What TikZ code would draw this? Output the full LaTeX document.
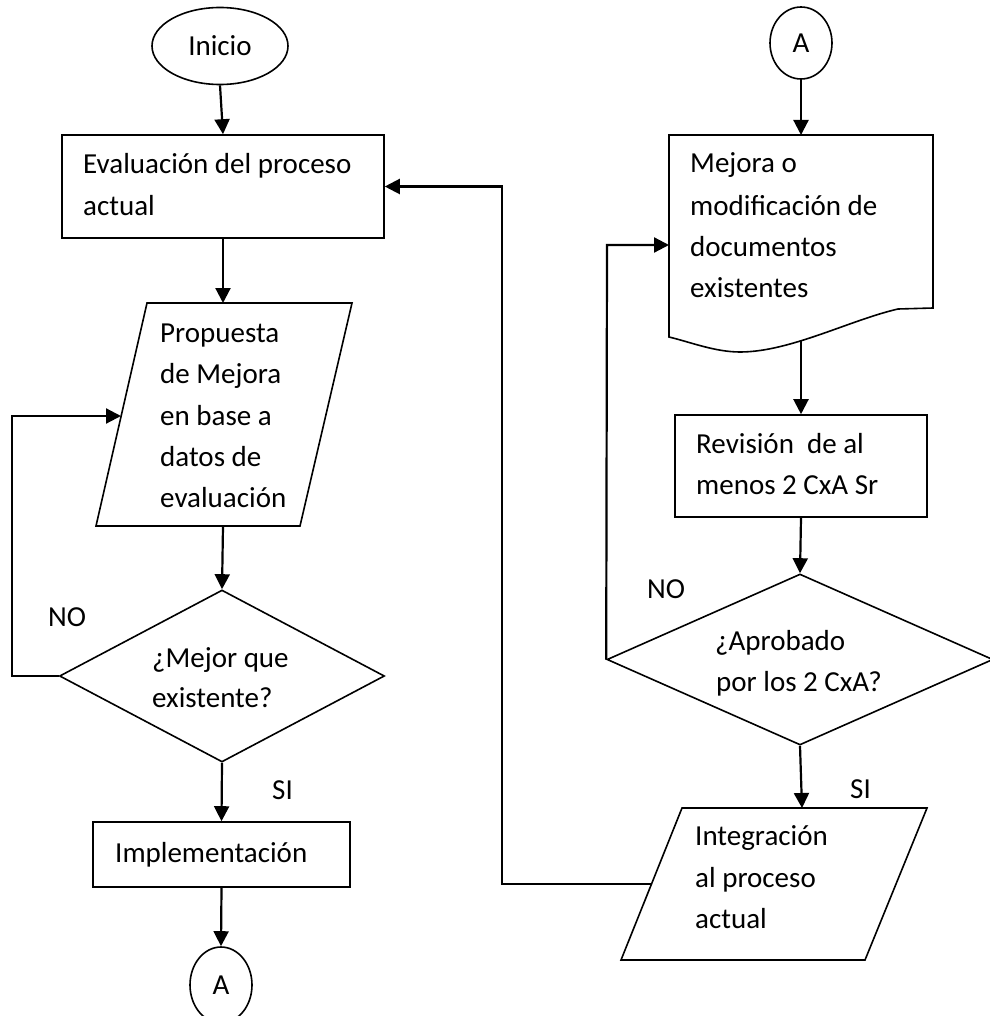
\documentclass[tikz,border=0pt]{standalone}
\usepackage{fontspec}
\setmainfont{Carlito}
\usetikzlibrary{arrows.meta,shapes.geometric}
\begin{document}
\begin{tikzpicture}[x=1pt,y=-1pt,
  txtfont/.style={font=\fontsize{29}{35}\selectfont},
  blk/.style={draw,line width=1.6pt,inner sep=0pt,txtfont},
  conn/.style={line width=2.2pt,-{Triangle[length=15pt,width=15pt]}},
  lbl/.style={anchor=base west,inner sep=0pt,txtfont}]
\useasboundingbox (0,0) rectangle (989,1016);

% ---------- left column ----------
\node[blk,ellipse,minimum width=136pt,minimum height=77pt] (inicio) at (220,46) {Inicio};
\node[blk,rectangle,minimum width=322pt,minimum height=103pt] (eval) at (223,186.5) {};
\node[lbl] (e1) at (83,174) {Evaluación del proceso};
\node[lbl] (e2) at (83,215) {actual};

\draw[blk] (147,303) -- (352,303) -- (300,526) -- (96,526) -- cycle;
\coordinate (propT) at (223,303);
\coordinate (propB) at (223,526);
\coordinate (propL) at (121,416);
\node[lbl] (p1) at (160,342) {Propuesta};
\node[lbl] (p2) at (160,383) {de Mejora};
\node[lbl] (p3) at (160,425) {en base a};
\node[lbl] (p4) at (160,466) {datos de};
\node[lbl] (p5) at (160,507) {evaluación};

\node[blk,diamond,minimum width=325pt,minimum height=172pt] (d1) at (222,676) {};
\node[lbl] (m1) at (152,667) {¿Mejor que};
\node[lbl] (m2) at (152,707) {existente?};
\node[lbl] (no1) at (48,626) {NO};
\node[lbl] (si1) at (272,799) {SI};

\node[blk,rectangle,minimum width=257pt,minimum height=65pt] (impl) at (221.5,854.5) {};
\node[lbl] (i1) at (115,862) {Implementación};
\node[blk,ellipse,minimum width=62pt,minimum height=76pt] (a1) at (221,985) {A};

\coordinate (noL) at (12,416);
\draw[conn] (inicio.south) -- (eval.north);
\draw[conn] (eval.south) -- (propT);
\draw[conn] (propB) -- (d1.north);
\draw[conn] (d1.west) -| (noL) -- (propL);
\draw[conn] (d1.south) -- (impl.north);
\draw[conn] (impl.south) -- (a1.north);

% ---------- right column ----------
\node[blk,ellipse,minimum width=62pt,minimum height=72pt] (a2) at (801,43) {A};
\draw[blk] (669,135) -- (933,135) -- (933,308) -- (898,309)
  .. controls (850,320) and (790,352) .. (740,352)
  .. controls (715,352) and (690,342) .. (669,337) -- cycle;
\coordinate (docT) at (801,135);
\coordinate (docB) at (801,341);
\coordinate (docL) at (669,245);
\node[lbl] (t1) at (690,173) {Mejora o};
\node[lbl] (t2) at (690,215) {modificación de};
\node[lbl] (t3) at (690,256) {documentos};
\node[lbl] (t4) at (690,297) {existentes};

\node[blk,rectangle,minimum width=252pt,minimum height=102pt] (rev) at (801,466) {};
\node[lbl] (r1) at (696,453) {Revisión\ \ de al};
\node[lbl] (r2) at (696,494) {menos 2 CxA Sr};

\node[blk,diamond,minimum width=386pt,minimum height=171pt] (d2) at (800,659.5) {};
\node[lbl] (q1) at (715,650) {¿Aprobado};
\node[lbl] (q2) at (716,691) {por los 2 CxA?};
\node[lbl] (no2) at (647,598) {NO};
\node[lbl] (si2) at (850,798) {SI};

\draw[blk] (682,808) -- (927,808) -- (865,960) -- (621,960) -- cycle;
\coordinate (intT) at (802,808);
\coordinate (intL) at (652,884);
\node[lbl] (g1) at (695,845) {Integración};
\node[lbl] (g2) at (695,887) {al proceso};
\node[lbl] (g3) at (695,928) {actual};

\coordinate (loopR) at (607,245);
\coordinate (back) at (502,186.5);
\draw[conn] (a2.south) -- (docT);
\draw[conn] (docB) -- (rev.north);
\draw[conn] (rev.south) -- (d2.north);
\draw[conn] (d2.west) -- (loopR) -- (docL);
\draw[conn] (d2.south) -- (intT);
\draw[conn] (intL) -| (back) -- (eval.east);
\end{tikzpicture}
\end{document}
